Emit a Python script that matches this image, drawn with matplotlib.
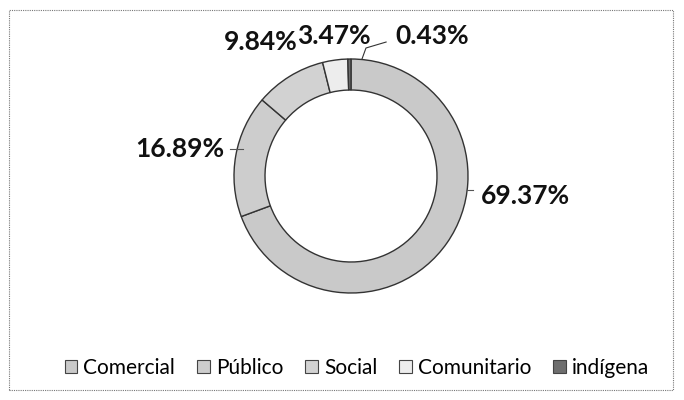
import matplotlib.pyplot as plt
from matplotlib.patches import Rectangle, Patch

# datos
categorias = ["Comercial", "Público", "Social", "Comunitario", "indígena"]
valores = [69.37, 16.89, 9.84, 3.47, 0.43]
etiquetas = ["69.37%", "16.89%", "9.84%", "3.47%", "0.43%"]
colores = ["#c9c9c9", "#cdcdcd", "#d2d2d2", "#ededed", "#6e6e6e"]

plt.rcParams['font.family'] = ['Lato', 'DejaVu Sans']

fig = plt.figure(figsize=(6.84, 4.0), dpi=100)

# marco punteado
fig.patches.append(Rectangle((9 / 684, 10 / 400), 664 / 684, 380 / 400,
                             transform=fig.transFigure, fill=False,
                             edgecolor="#777777", linestyle=(0, (1, 1)), linewidth=0.8))

# ejes para el anillo (radio 1 = 117 px, centro en (351, 176))
cx, cy, r = 351, 176, 117
ax = fig.add_axes([(cx - r) / 684, (400 - cy - r) / 400, 2 * r / 684, 2 * r / 400])
ax.pie(valores, colors=colores, startangle=90, counterclock=False,
       radius=1, wedgeprops=dict(width=0.265, edgecolor="#333333", linewidth=1.0))
ax.set_xlim(-1, 1)
ax.set_ylim(-1, 1)
ax.set_aspect("equal")
ax.axis("off")

# etiquetas
pos = {
    "69.37%": (1.487, -0.171),
    "16.89%": (-1.466, 0.231),
    "9.84%": (-0.769, 1.145),
    "3.47%": (-0.145, 1.197),
    "0.43%": (0.692, 1.197),
}
for et in etiquetas:
    x, y = pos[et]
    ax.text(x, y, et, ha="center", va="center", fontsize=19, fontweight="bold",
            color="#111111", clip_on=False)

# líneas guía
ax.plot([0.094, 0.128, 0.30], [1.0, 1.094, 1.145], color="#333333", lw=0.8, clip_on=False)
ax.plot([-1.034, -0.92], [0.231, 0.231], color="#555555", lw=0.8, clip_on=False)
ax.plot([0.99, 1.04], [-0.12, -0.12], color="#555555", lw=0.8, clip_on=False)

# leyenda
handles = [Patch(facecolor=c, edgecolor="#444444", linewidth=0.8) for c in colores]
fig.legend(handles, categorias, loc="center", bbox_to_anchor=(357 / 684, 1 - 368 / 400),
           ncol=5, frameon=False, fontsize=15, handlelength=0.6, handleheight=0.6,
           handletextpad=0.3, columnspacing=1.05)

fig.savefig("out.png", dpi=100)
